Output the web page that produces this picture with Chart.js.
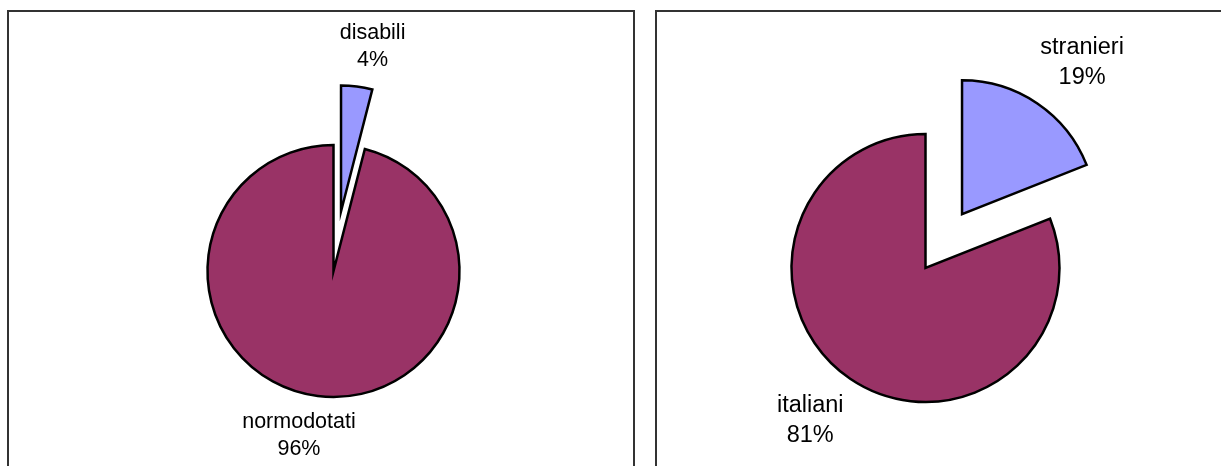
<!DOCTYPE html>
<html>
<head>
<meta charset="utf-8">
<script src="https://cdn.jsdelivr.net/npm/chart.js@4/dist/chart.umd.min.js"></script>
<style>
	html, body { margin: 0; padding: 0; background: #fff; overflow: hidden; }
	body { width: 1221px; height: 466px; position: relative; }
	.panel { position: absolute; top: 10px; height: 500px; border: 2px solid #333; box-sizing: border-box; }
	#panelLeft  { left: 7px; width: 628px; }
	#panelRight { left: 655px; width: 620px; }
	canvas { position: absolute; }
	#chartLeft  { left: 9px; top: 12px; }
	#chartRight { left: 657px; top: 12px; }
</style>
</head>
<body>
<div class="panel" id="panelLeft"></div>
<div class="panel" id="panelRight"></div>
<canvas id="chartLeft" width="624" height="454"></canvas>
<canvas id="chartRight" width="564" height="454"></canvas>
<script>
// data
var abilityLabels = ['disabili', 'normodotati'];
var abilityValues = [4, 96];
var originLabels  = ['stranieri', 'italiani'];
var originValues  = [19, 81];

;(function()
{
	'use strict';

	var charts = {},
		sliceColors = ['#9999FF', '#993366'];

	// draws the slices pulled out from the centre, then the labels outside
	var explodePlugin = {
		id: 'explode',
		beforeDatasetDraw: function(chart, args, opts) {
			var ctx = chart.ctx;
			args.meta.data.forEach(function(arc, i) {
				var e = opts.explode[i] || 0,
					mid = (arc.startAngle + arc.endAngle) / 2;
				ctx.save();
				ctx.translate(Math.cos(mid) * e, Math.sin(mid) * e);
				arc.draw(ctx, chart.chartArea);
				ctx.restore();
			});
			return false;
		},
		afterDatasetsDraw: function(chart, args, opts) {
			var ctx = chart.ctx,
				meta = chart.getDatasetMeta(0),
				values = chart.data.datasets[0].data,
				total = values.reduce(function(a, b) { return a + b; }, 0);

			ctx.save();
			ctx.font = opts.fontSize + 'px "Liberation Sans", Arial, sans-serif';
			ctx.fillStyle = '#000';
			ctx.textAlign = 'center';
			ctx.textBaseline = 'middle';

			meta.data.forEach(function(arc, i) {
				var lines = [chart.data.labels[i], Math.round(values[i] / total * 100) + '%'],
					mid = (arc.startAngle + arc.endAngle) / 2,
					dx = Math.cos(mid), dy = Math.sin(mid),
					dist = arc.outerRadius + (opts.explode[i] || 0) + opts.gap,
					w = Math.max(ctx.measureText(lines[0]).width, ctx.measureText(lines[1]).width),
					h = lines.length * opts.lineHeight,
					cx = arc.x + dx * dist + dx * w / 2 + Math.sign(dx) * opts.shift,
					cy = arc.y + dy * dist + dy * h / 2;

				ctx.fillText(lines[0], cx, cy - opts.lineHeight / 2);
				ctx.fillText(lines[1], cx, cy + opts.lineHeight / 2);
			});
			ctx.restore();
		}
	};

	var makePie = function(id, labels, values, radius, padding, explode, fontSize, lineHeight, gap) {
		charts[id] = {};
		charts[id].canvas  = document.getElementById(id);
		charts[id].context = charts[id].canvas.getContext('2d');
		charts[id].chart = new Chart(charts[id].context, {
			type: 'pie',
			data: {
				labels: labels,
				datasets: [{
					data: values,
					backgroundColor: sliceColors,
					borderColor: '#000',
					borderWidth: 2.5,
					borderJoinStyle: 'miter'
				}]
			},
			options: {
				responsive: false,
				animation: false,
				radius: radius,
				layout: { padding: padding },
				events: [],
				plugins: {
					legend: { display: false },
					tooltip: { enabled: false },
					explode: { explode: explode, fontSize: fontSize, lineHeight: lineHeight, gap: gap, shift: 10 }
				}
			},
			plugins: [explodePlugin]
		});
	};

	makePie('chartLeft', abilityLabels, abilityValues, 126,
		{ left: 25, right: 0, top: 64, bottom: 0 }, [60, 0], 21.5, 27, 13);

	makePie('chartRight', originLabels, originValues, 134,
		{ left: 0, right: 27, top: 58, bottom: 0 }, [65, 0], 23.5, 30, 20);

})();
</script>
</body>
</html>
